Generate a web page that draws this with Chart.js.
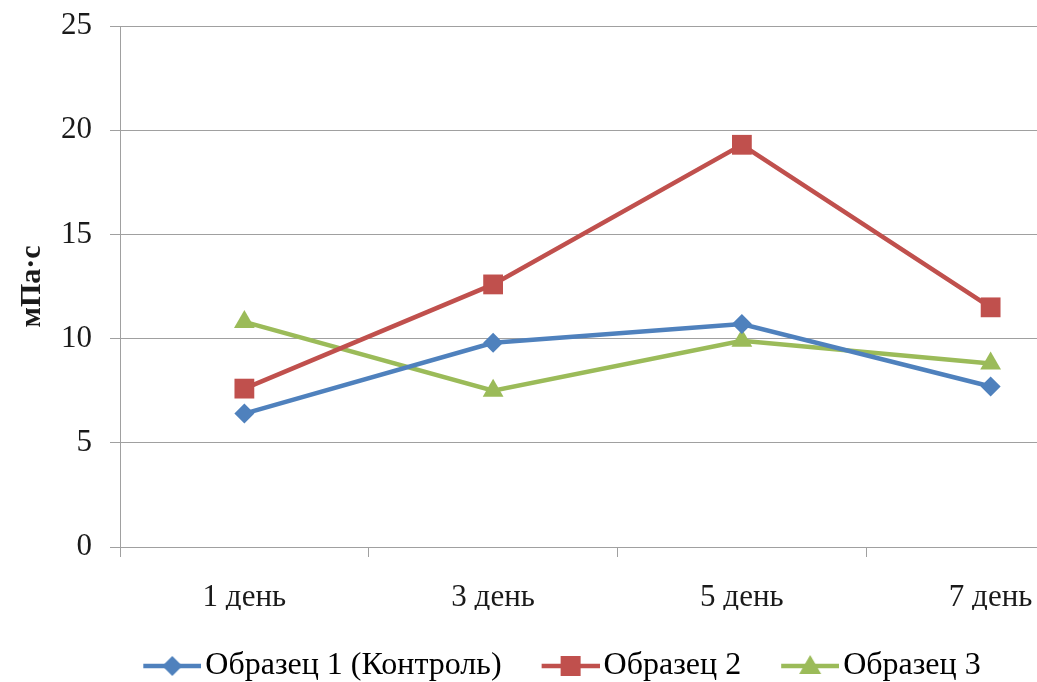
<!DOCTYPE html>
<html>
<head>
<meta charset="utf-8">
<script src="https://cdn.jsdelivr.net/npm/chart.js@4"></script>
<style>
  body { margin: 0; background: #fff; }
  .wrap { width: 1037px; height: 682px; overflow: hidden; }
</style>
</head>
<body>
<div class="wrap"><canvas class="chart" width="1129" height="692"></canvas></div>
<script>
const days = ["1 день", "3 день", "5 день", "7 день"];
const sample1 = [6.4, 9.8, 10.7, 7.7];
const sample2 = [7.6, 12.6, 19.3, 11.5];
const sample3 = [10.8, 7.5, 9.9, 8.8];
const yTicks = [0, 5, 10, 15, 20, 25];

const gridColor = "#a0a0a0";
const textColor = "#1a1a1a";
const serif = "'Liberation Serif', 'Times New Roman', serif";

// legend icon: short line with the marker in the middle
const legendIcon = (color, shape) => {
  const c = document.createElement("canvas");
  c.width = 70;
  c.height = 30;
  const g = c.getContext("2d");
  g.strokeStyle = color;
  g.lineWidth = 4.5;
  g.beginPath();
  g.moveTo(12, 15);
  g.lineTo(70, 15);
  g.stroke();
  g.fillStyle = color;
  g.beginPath();
  const cx = 41, cy = 15;
  if (shape === "diamond") {
    g.moveTo(cx, cy - 10); g.lineTo(cx + 10, cy); g.lineTo(cx, cy + 10); g.lineTo(cx - 10, cy);
  } else if (shape === "square") {
    g.rect(cx - 10, cy - 10, 20, 20);
  } else {
    g.moveTo(cx, cy - 11); g.lineTo(cx + 11, cy + 8); g.lineTo(cx - 11, cy + 8);
  }
  g.closePath();
  g.fill();
  return c;
};

const series = [
  { label: "Образец 1 (Контроль)", data: sample1, color: "#4f81bd", style: "rectRot", radius: 10, icon: "diamond" },
  { label: "Образец 2", data: sample2, color: "#c0504d", style: "rect", radius: 14, icon: "square" },
  { label: "Образец 3", data: sample3, color: "#9bbb59", style: "triangle", radius: 12, icon: "triangle" },
];

const ctx = document.querySelector(".chart");
const myChart = new Chart(ctx, {
  type: "line",
  data: {
    labels: days,
    datasets: series.map((s) => ({
      label: s.label,
      data: s.data,
      borderColor: s.color,
      backgroundColor: s.color,
      borderWidth: 4.5,
      pointStyle: s.style,
      pointRadius: s.radius,
      pointBorderWidth: 0,
      tension: 0,
    })),
  },
  options: {
    responsive: false,
    animation: false,
    layout: { padding: { top: 26, right: 5, left: 0, bottom: 0 } },
    plugins: {
      tooltip: { enabled: false },
      legend: {
        position: "bottom",
        labels: {
          color: textColor,
          font: { family: serif, size: 32 },
          usePointStyle: true,
          pointStyleWidth: 46,
          padding: 40,
          generateLabels: (chart) =>
            series.map((s, i) => ({
              text: s.label,
              pointStyle: legendIcon(s.color, s.icon),
              fillStyle: s.color,
              strokeStyle: s.color,
              lineWidth: 0,
              hidden: false,
              datasetIndex: i,
            })),
        },
      },
    },
    scales: {
      x: {
        offset: true,
        grid: {
          offset: true,
          drawOnChartArea: false,
          drawTicks: true,
          tickLength: 10,
          color: gridColor,
        },
        border: { display: true, color: gridColor },
        ticks: {
          color: textColor,
          font: { family: serif, size: 31 },
          padding: 22,
          maxRotation: 0,
        },
        afterFit: (s) => { s.height = 63; },
      },
      y: {
        min: 0,
        max: 25,
        afterBuildTicks: (s) => { s.ticks = yTicks.map((v) => ({ value: v })); },
        grid: { color: gridColor, tickLength: 10 },
        border: { display: true, color: gridColor },
        ticks: {
          color: textColor,
          font: { family: serif, size: 31 },
          padding: 18,
        },
        title: {
          display: true,
          text: "мПа·с",
          color: textColor,
          font: { family: serif, size: 30, weight: "bold" },
          padding: { top: 14, bottom: 0 },
        },
        afterFit: (s) => {
          s.width = 120;
          s.paddingTop = 0;
          s.paddingBottom = 0;
        },
      },
    },
  },
});
</script>
</body>
</html>
